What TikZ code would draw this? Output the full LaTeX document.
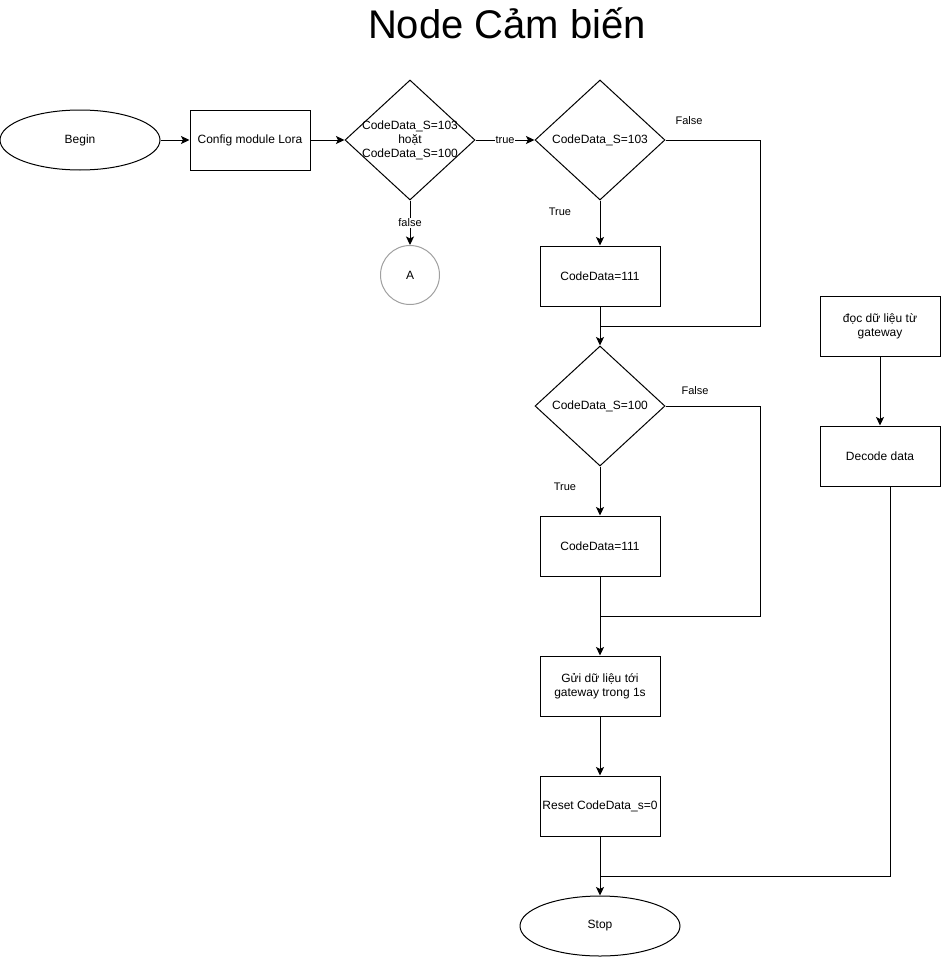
\documentclass[tikz,border=0pt]{standalone}
\usepackage{fontspec}
\setmainfont{Liberation Sans}
\usetikzlibrary{shapes.geometric,arrows.meta}
\definecolor{circgray}{RGB}{160,160,160}
\tikzset{
  base/.style={font=\fontsize{12}{14}\selectfont, inner sep=0pt, align=center},
  box/.style={base, draw, line width=1pt, minimum width=120pt, minimum height=60pt},
  oval/.style={base, draw, ellipse, line width=1pt, minimum width=160pt, minimum height=60pt},
  dia/.style={base, draw, diamond, line width=1pt, minimum width=130pt, minimum height=120pt},
  conn/.style={base, draw=circgray, circle, line width=1pt, minimum size=59pt},
  edge/.style={line width=1pt, -{Stealth[length=8.5pt,width=8pt,inset=2pt]}},
  plain/.style={line width=1pt},
  elabel/.style={font=\fontsize{11}{13}\selectfont, fill=white, inner sep=1pt},
  flabel/.style={font=\fontsize{11}{13}\selectfont, inner sep=0pt},
}
\begin{document}
\begin{tikzpicture}[x=1pt,y=-1pt]
\useasboundingbox (0,0) rectangle (941,958);
\node[font=\fontsize{40}{48}\selectfont, inner sep=0pt] (title) at (507,23) {Node Cảm biến};

\node[oval] (begin) at (80,140) {Begin};
\node[box] (config) at (250,140) {Config module Lora};
\node[dia, label={[base]center:CodeData\_S=103\\hoặt\\CodeData\_S=100}] (d1) at (410,140) {};
\node[conn] (A) at (410,275) {A};

\node[dia, label={[base]center:CodeData\_S=103}] (d2) at (600,140) {};
\node[box] (b1) at (600,276) {CodeData=111};
\node[dia, label={[base]center:CodeData\_S=100}] (d3) at (600,406) {};
\node[box] (b2) at (600,546) {CodeData=111};
\node[box] (send) at (600,686) {Gửi dữ liệu tới\\gateway trong 1s};
\node[box] (reset) at (600,806) {Reset CodeData\_s=0};
\node[oval] (stop) at (600,926) {Stop};

\node[box] (read) at (880,326) {đọc dữ liệu từ\\gateway};
\node[box] (decode) at (880,456) {Decode data};

\node[flabel] (t1) at (560,212) {True};
\node[flabel] (f1) at (689,121) {False};
\node[flabel] (t2) at (565,487) {True};
\node[flabel] (f2) at (695,391) {False};

\coordinate (k1) at (760,140);
\coordinate (j1) at (600,326);
\coordinate (k2) at (760,406);
\coordinate (j2) at (600,616);
\coordinate (j3) at (600,876);

\draw[edge] (begin) -- (config);
\draw[edge] (config) -- (d1);
\draw[edge] (d1.east) -- node[elabel] {true} (d2.west);
\draw[edge] (d1.south) -- node[elabel] {false} (A.north);
\draw[edge] (d2.south) -- (b1.north);
\draw[plain] (d2.east) -- (k1) |- (j1);
\draw[edge] (b1.south) -- (d3.north);
\draw[plain] (d3.east) -- (k2) |- (j2);
\draw[edge] (d3.south) -- (b2.north);
\draw[edge] (b2.south) -- (send.north);
\draw[edge] (send.south) -- (reset.north);
\draw[edge] (reset.south) -- (stop.north);
\draw[edge] (read.south) -- (decode.north);
\draw[plain] ([xshift=10pt]decode.south) |- (j3);
\end{tikzpicture}
\end{document}
